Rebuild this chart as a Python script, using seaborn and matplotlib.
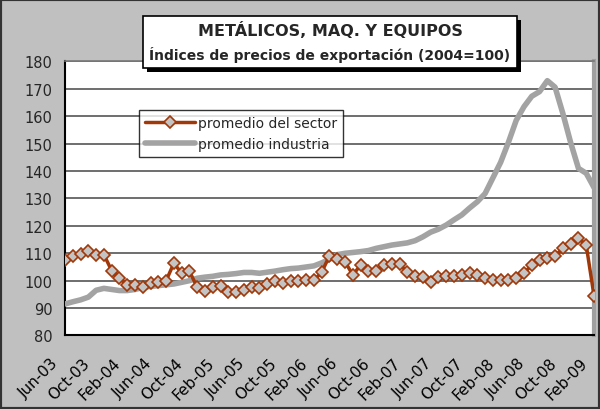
import pandas as pd
import numpy as np
import matplotlib
matplotlib.use("Agg")
import matplotlib.pyplot as plt
from matplotlib.patches import Rectangle
from matplotlib.transforms import ScaledTranslation
import seaborn as sns

# Monthly observations, Jun-03 .. Feb-09
months = pd.date_range("2003-06-01", "2009-02-01", freq="MS")

sector = [107.7, 108.9, 109.6, 111.0, 109.5, 109.5, 103.7, 100.9, 98.4, 98.4,
          97.6, 99.1, 99.4, 100.0, 106.4, 102.7, 103.4, 97.6, 96.4, 97.8,
          98.2, 96.0, 95.8, 96.7, 97.8, 97.3, 98.9, 99.9, 99.1, 99.9,
          99.9, 100.4, 100.1, 103.1, 109.1, 107.9, 106.9, 102.1, 105.7, 103.4,
          103.4, 105.7, 106.1, 106.1, 103.1, 101.8, 101.2, 99.6, 101.2, 101.6,
          101.8, 102.1, 102.8, 102.2, 100.9, 100.4, 100.4, 100.1, 101.0, 102.8,
          105.7, 107.7, 108.3, 109.1, 111.8, 113.5, 115.5, 113.0, 94.5]

industry = [91.5, 92.3, 93.0, 94.0, 96.5, 97.2, 96.8, 96.4, 96.4, 96.8,
            97.5, 97.9, 98.2, 98.5, 98.8, 99.4, 100.0, 100.9, 101.3, 101.6,
            102.1, 102.3, 102.6, 103.0, 103.0, 102.7, 103.1, 103.5, 104.0, 104.4,
            104.6, 105.0, 105.4, 106.5, 107.8, 109.5, 110.0, 110.3, 110.6, 111.0,
            111.8, 112.4, 113.0, 113.4, 113.8, 114.6, 116.0, 117.7, 118.8, 120.3,
            122.2, 124.0, 126.5, 128.8, 131.8, 137.5, 143.2, 150.5, 158.5, 163.5,
            167.3, 169.0, 173.0, 170.6, 161.0, 150.4, 141.0, 139.2, 134.0]

tick_labels = ["Jun-03", "Oct-03", "Feb-04", "Jun-04", "Oct-04", "Feb-05",
               "Jun-05", "Oct-05", "Feb-06", "Jun-06", "Oct-06", "Feb-07",
               "Jun-07", "Oct-07", "Feb-08", "Jun-08", "Oct-08", "Feb-09"]

df = pd.DataFrame({"pos": np.arange(len(months)), "sector": sector, "industry": industry})

sns.set_style("white")
plt.rcParams["font.family"] = ["DejaVu Sans"]

fig = plt.figure(figsize=(6, 4.1), dpi=100, facecolor="#c0c0c0")
ax = fig.add_axes([0.1083, 0.1793, 0.8817, 0.6683])
ax.set_facecolor("white")

# industry average: thick gray line
sns.lineplot(data=df, x="pos", y="industry", ax=ax, color="#a3a3a3",
             linewidth=4, label="promedio industria", zorder=3)
# sector average: brown line with gray diamonds
sns.lineplot(data=df, x="pos", y="sector", ax=ax, color="#a0380a",
             linewidth=2.5, marker="D", markersize=6, markerfacecolor="#c4c4c4",
             markeredgecolor="#a0380a", markeredgewidth=1.2,
             label="promedio del sector", zorder=4)

ax.set_xlim(0, len(months) - 1)
ax.set_ylim(80, 180)
ax.set_yticks(range(80, 181, 10))
ax.set_xticks(range(0, len(months), 4))
ax.set_xticklabels(tick_labels, rotation=45, ha="right", va="center",
                   rotation_mode="anchor", fontsize=11)
ax.tick_params(axis="x", direction="in", length=4, width=1, pad=18, colors="black")
ax.tick_params(axis="y", length=0, pad=9, labelsize=10.5)
# nudge the rotated month labels to the left of their ticks
shift = ScaledTranslation(-0.09, 0, fig.dpi_scale_trans)
for lab in ax.get_xticklabels():
    lab.set_transform(lab.get_transform() + shift)
ax.set_xlabel("")
ax.set_ylabel("")

ax.yaxis.grid(True, color="#555555", linewidth=1.2, zorder=0)
ax.set_axisbelow(True)

for side in ["left", "bottom"]:
    ax.spines[side].set_color("black")
    ax.spines[side].set_linewidth(1.5)
ax.spines["top"].set_color("#777777")
ax.spines["top"].set_linewidth(1.2)
ax.spines["right"].set_color("#a0a0a0")
ax.spines["right"].set_linewidth(3)

handles, labels = ax.get_legend_handles_labels()
leg = ax.legend(handles[::-1], labels[::-1], loc="upper left",
                bbox_to_anchor=(0.14, 0.823), borderaxespad=0, fontsize=10,
                frameon=True, fancybox=False, handlelength=3.6, handletextpad=0.2,
                borderpad=0.45, labelspacing=0.5)
leg.get_frame().set_edgecolor("black")
leg.get_frame().set_linewidth(1)

# title box with drop shadow
W, H = 600, 410
bx, by, bw, bh = 143, 17, 374, 52
fig.patches.append(Rectangle(((bx + 4) / W, 1 - (by + bh + 4) / H), bw / W, bh / H,
                             transform=fig.transFigure, facecolor="black", edgecolor="none"))
fig.patches.append(Rectangle((bx / W, 1 - (by + bh) / H), bw / W, bh / H,
                             transform=fig.transFigure, facecolor="white",
                             edgecolor="black", linewidth=1.2))
fig.text(0.55, 1 - 31 / H, "METÁLICOS, MAQ. Y EQUIPOS", ha="center", va="center",
         fontsize=11.5, fontweight="bold")
fig.text(0.55, 1 - 55 / H, "Índices de precios de exportación (2004=100)", ha="center",
         va="center", fontsize=10, fontweight="bold")

fig.patches.append(Rectangle((0, 0), 1, 1, transform=fig.transFigure, fill=False,
                             edgecolor="#333333", linewidth=3))

fig.savefig("out.png", dpi=100, facecolor=fig.get_facecolor())
